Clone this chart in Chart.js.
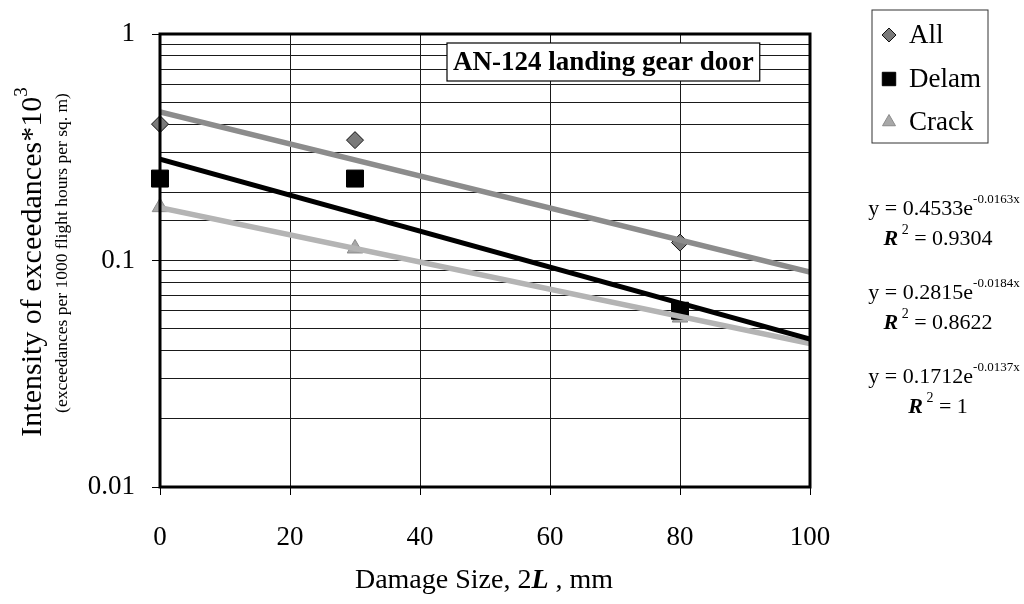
<!DOCTYPE html>
<html>
<head>
<meta charset="utf-8">
<script src="https://cdn.jsdelivr.net/npm/chart.js@4"></script>
<style>
    html, body { margin: 0; padding: 0; background: #fff; }
    #wrap { width: 1024px; height: 604px; }
</style>
</head>
<body>
<div id="wrap"><canvas id="chart" width="1024" height="604"></canvas></div>
<script>
// data
const seriesNames = ['All', 'Delam', 'Crack'];
const damageSize = [0, 30, 80];
const allValues = [0.40, 0.34, 0.12];
const delamValues = [0.23, 0.23, 0.06];
const crackValues = [0.172, 0.113, 0.056];

// trend line end points (x = 0 and x = 100)
const trendX = [0, 100];
const allTrend = [0.453, 0.089];
const delamTrend = [0.28, 0.045];
const crackTrend = [0.171, 0.043];

const yTickLabels = [0.01, 0.1, 1];
const xTickLabels = [0, 20, 40, 60, 80, 100];

// fitted equations shown on the right: [a, exponent, R²]
const eqCoef = ['0.4533', '0.2815', '0.1712'];
const eqExp = ['-0.0163x', '-0.0184x', '-0.0137x'];
const eqR2 = ['0.9304', '0.8622', '1'];

const chartTitle = 'AN-124 landing gear door';
const serif = '"Liberation Serif", "Times New Roman", serif';

const markerStyles = [
    { pointStyle: 'rectRot', radius: 8.5, legendRadius: 7, bg: '#7a7a7a', border: '#111' },
    { pointStyle: 'rect', radius: 12, legendRadius: 9.5, bg: '#000', border: '#000' },
    { pointStyle: 'triangle', radius: 9, legendRadius: 7.5, bg: '#a8a8a8', border: '#8a8a8a' }
];

function toPoints(xs, ys) {
    return xs.map(function (x, i) { return { x: x, y: ys[i] }; });
}

function pointSet(idx, values) {
    const m = markerStyles[idx];
    return {
        type: 'scatter',
        label: seriesNames[idx],
        data: toPoints(damageSize, values),
        pointStyle: m.pointStyle,
        pointRadius: m.radius,
        pointBackgroundColor: m.bg,
        pointBorderColor: m.border,
        pointBorderWidth: 1,
        showLine: false,
        clip: false,
        order: 2
    };
}

function trendSet(name, values, color, width) {
    return {
        type: 'line',
        label: name + ' trend',
        data: toPoints(trendX, values),
        borderColor: color,
        borderWidth: width,
        pointRadius: 0,
        fill: false,
        order: 1
    };
}

function drawParts(ctx, parts, cx, y) {
    let total = 0;
    parts.forEach(function (p) { ctx.font = p.f; p.w = ctx.measureText(p.t).width; total += p.w; });
    let x = cx - total / 2;
    ctx.textAlign = 'left';
    ctx.textBaseline = 'middle';
    ctx.fillStyle = '#000';
    parts.forEach(function (p) {
        ctx.font = p.f;
        ctx.fillText(p.t, x, y + (p.dy || 0));
        x += p.w;
    });
}

function drawEquation(ctx, cx, y, coef, exp) {
    drawParts(ctx, [
        { t: 'y = ' + coef + 'e', f: '22px ' + serif },
        { t: exp, f: '13px ' + serif, dy: -9 }
    ], cx, y);
}

function drawR2(ctx, cx, y, r2) {
    drawParts(ctx, [
        { t: 'R', f: 'italic bold 22px ' + serif },
        { t: ' 2', f: '14px ' + serif, dy: -9 },
        { t: ' = ' + r2, f: '22px ' + serif }
    ], cx, y);
}

// draws the frame, title, legend, equations and axis titles
const decorPlugin = {
    id: 'decor',
    afterDraw: function (chart) {
        const ctx = chart.ctx;
        const a = chart.chartArea;
        ctx.save();

        // plot frame
        ctx.strokeStyle = '#000';
        ctx.lineWidth = 3;
        ctx.strokeRect(a.left, a.top, a.right - a.left, a.bottom - a.top);

        // title box
        ctx.font = 'bold 27px ' + serif;
        const tw = ctx.measureText(chartTitle).width;
        const bx = 447, by = 43, bw = tw + 12, bh = 38;
        ctx.fillStyle = '#fff';
        ctx.fillRect(bx, by, bw, bh);
        ctx.lineWidth = 1.2;
        ctx.strokeRect(bx, by, bw, bh);
        ctx.fillStyle = '#000';
        ctx.textAlign = 'left';
        ctx.textBaseline = 'middle';
        ctx.fillText(chartTitle, bx + 6, by + bh / 2 + 1);

        // legend
        ctx.lineWidth = 1;
        ctx.strokeStyle = '#333';
        ctx.strokeRect(872, 10, 116, 133);
        const legendY = [35, 79, 122];
        ctx.font = '27px ' + serif;
        for (let i = 0; i < seriesNames.length; i++) {
            const m = markerStyles[i];
            ctx.fillStyle = m.bg;
            ctx.strokeStyle = m.border;
            ctx.lineWidth = 1;
            Chart.helpers.drawPoint(ctx, { pointStyle: m.pointStyle, radius: m.legendRadius, borderWidth: 1 }, 889, legendY[i]);
            ctx.fillStyle = '#000';
            ctx.textAlign = 'left';
            ctx.fillText(seriesNames[i], 909, legendY[i] + 1);
        }

        // equations
        const eqY = [209, 293, 377];
        for (let i = 0; i < eqCoef.length; i++) {
            drawEquation(ctx, 944, eqY[i], eqCoef[i], eqExp[i]);
            drawR2(ctx, 938, eqY[i] + 30, eqR2[i]);
        }

        // y axis title
        ctx.save();
        ctx.translate(33, 262);
        ctx.rotate(-Math.PI / 2);
        drawParts(ctx, [
            { t: 'Intensity of exceedances*10', f: '30px ' + serif },
            { t: '3', f: '19px ' + serif, dy: -11 }
        ], 0, 0);
        ctx.restore();

        ctx.save();
        ctx.translate(62, 253);
        ctx.rotate(-Math.PI / 2);
        drawParts(ctx, [
            { t: '(exceedances per 1000 flight hours per sq. m)', f: '17.5px ' + serif }
        ], 0, 0);
        ctx.restore();

        // x axis title
        drawParts(ctx, [
            { t: 'Damage Size, 2', f: '28px ' + serif },
            { t: 'L', f: 'italic bold 28px ' + serif },
            { t: ' , mm', f: '28px ' + serif }
        ], 484, 581);

        ctx.restore();
    }
};

const ctx = document.getElementById('chart').getContext('2d');
const chart = new Chart(ctx, {
    type: 'scatter',
    data: {
        datasets: [
            trendSet('All', allTrend, '#8c8c8c', 5.5),
            trendSet('Delam', delamTrend, '#000', 5),
            trendSet('Crack', crackTrend, '#b4b4b4', 5.5),
            pointSet(0, allValues),
            pointSet(1, delamValues),
            pointSet(2, crackValues)
        ]
    },
    options: {
        responsive: false,
        animation: false,
        layout: { padding: { top: 34, right: 214, left: 0, bottom: 0 } },
        plugins: {
            legend: { display: false },
            tooltip: { enabled: false }
        },
        scales: {
            x: {
                type: 'linear',
                min: 0,
                max: 100,
                afterBuildTicks: function (scale) {
                    scale.ticks = xTickLabels.map(function (v) { return { value: v }; });
                },
                afterFit: function (scale) { scale.height = 117; },
                border: { display: false },
                grid: { color: '#1a1a1a', lineWidth: 1, tickLength: 8, tickColor: '#000' },
                ticks: {
                    color: '#000',
                    padding: 27,
                    font: { family: serif, size: 27 },
                    maxRotation: 0
                }
            },
            y: {
                type: 'logarithmic',
                min: 0.01,
                max: 1,
                afterFit: function (scale) { scale.width = 160; },
                border: { display: false },
                grid: {
                    color: '#1a1a1a',
                    lineWidth: 1,
                    tickLength: 8,
                    tickColor: function (c) {
                        return yTickLabels.indexOf(c.tick && c.tick.value) >= 0 ? '#000' : 'rgba(0,0,0,0)';
                    }
                },
                ticks: {
                    color: '#000',
                    padding: 17,
                    autoSkip: false,
                    font: { family: serif, size: 27 },
                    callback: function (v) {
                        const hit = yTickLabels.find(function (t) { return Math.abs(t - v) < t * 1e-6; });
                        return hit !== undefined ? String(hit) : '';
                    }
                }
            }
        }
    },
    plugins: [decorPlugin]
});
</script>
</body>
</html>
